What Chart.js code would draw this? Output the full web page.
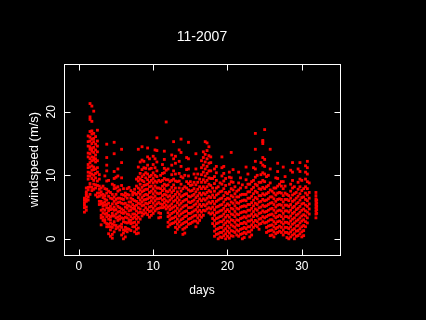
<!DOCTYPE html>
<html>
<head>
<meta charset="utf-8">
<script src="https://cdn.jsdelivr.net/npm/chart.js@4"></script>
<style>
  html, body { margin: 0; padding: 0; background: #000; }
</style>
</head>
<body>
<canvas id="wind" width="426" height="320"></canvas>
<script>
var chartTitle = "11-2007";
var xLabel = "days";
var yLabel = "windspeed (m/s)";
var xTicks = [0, 10, 20, 30];
var yTicks = [0, 10, 20];

var days = [0.75, 1.0, 1.25, 1.5, 1.75, 2.0, 2.25, 2.5, 2.75, 3.0, 3.25, 3.5, 3.75, 4.0, 4.25, 4.5, 4.75,
  5.0, 5.25, 5.5, 5.75, 6.0, 6.25, 6.5, 6.75, 7.0, 7.25, 7.5, 7.75, 8.0, 8.25, 8.5, 8.75,
  9.0, 9.25, 9.5, 9.75, 10.0, 10.25, 10.5, 10.75, 11.0, 11.25, 11.5, 11.75, 12.0, 12.25, 12.5, 12.75,
  13.0, 13.25, 13.5, 13.75, 14.0, 14.25, 14.5, 14.75, 15.0, 15.25, 15.5, 15.75, 16.0, 16.25, 16.5, 16.75,
  17.0, 17.25, 17.5, 17.75, 18.0, 18.25, 18.5, 18.75, 19.0, 19.25, 19.5, 19.75, 20.0, 20.25, 20.5, 20.75,
  21.0, 21.25, 21.5, 21.75, 22.0, 22.25, 22.5, 22.75, 23.0, 23.25, 23.5, 23.75, 24.0, 24.25, 24.5, 24.75,
  25.0, 25.25, 25.5, 25.75, 26.0, 26.25, 26.5, 26.75, 27.0, 27.25, 27.5, 27.75, 28.0, 28.25, 28.5, 28.75,
  29.0, 29.25, 29.5, 29.75, 30.0, 30.25, 30.5, 30.75, 31.0, 31.9, 32.0];

var speeds = [
  [4.2, 4.9, 5.3, 6.1, 6.4, 5.7],
  [4.5, 5.0, 5.9, 6.3, 7.1, 7.4, 8.0, 6.8],
  [6.1, 6.6, 7.7, 8.1, 9.4, 9.9, 11.2, 11.7, 12.9, 13.5, 14.6, 15.3, 16.2, 10.5],
  [7.0, 8.2, 8.7, 9.9, 10.4, 11.3, 12.0, 12.6, 13.4, 14.1, 14.5, 15.4, 16.0, 16.9, 18.8, 19.2, 21.3],
  [7.6, 8.1, 9.5, 10.2, 10.8, 11.5, 12.3, 12.9, 13.8, 14.2, 15.0, 15.7, 16.5, 17.0, 18.5, 20.9],
  [7.8, 8.6, 9.2, 10.0, 10.9, 11.3, 12.4, 12.8, 13.6, 14.4, 15.3, 15.8, 16.6, 20.1],
  [6.9, 8.0, 8.5, 9.6, 10.3, 11.0, 12.1, 12.6, 13.2, 14.0, 14.9, 16.1],
  [6.6, 7.2, 8.4, 9.1, 10.5, 11.2, 12.3, 13.7, 14.6, 15.4, 17.1],
  [5.4, 5.9, 6.7, 7.8, 8.3, 9.4, 10.1, 7.2],
  [2.2, 3.3, 3.7, 4.5, 5.5, 5.9, 6.9, 7.4, 8.0],
  [2.9, 3.4, 4.1, 5.2, 5.6, 6.5, 7.0, 8.3, 4.7],
  [2.6, 3.0, 3.9, 4.5, 5.3, 6.3, 6.8, 7.9, 9.9, 5.8],
  [1.9, 2.4, 3.5, 4.0, 4.9, 5.4, 6.1, 7.2, 7.8, 9.1, 10.7, 11.6, 12.8, 14.9],
  [0.8, 1.9, 2.3, 3.1, 4.4, 4.8, 5.6, 6.7, 7.5, 9.2, 3.7],
  [0.4, 1.4, 1.9, 3.0, 3.5, 4.6, 5.1, 6.4, 7.3, 2.5],
  [0.1, 0.7, 1.8, 2.3, 3.6, 4.0, 4.7, 5.5, 6.3, 7.0, 8.6],
  [1.1, 2.2, 2.7, 3.6, 4.5, 5.0, 5.9, 6.6, 7.9, 8.4, 9.5, 10.6, 13.4, 15.2],
  [1.6, 2.1, 3.3, 3.9, 4.6, 5.5, 6.2, 7.0, 8.0, 9.7],
  [1.8, 2.9, 3.4, 4.2, 5.1, 5.7, 6.4, 7.5, 8.2, 9.9, 11.0],
  [1.4, 2.0, 3.1, 3.6, 4.3, 4.9, 5.8, 6.4, 7.7],
  [0.6, 1.8, 2.3, 3.3, 4.1, 4.7, 5.6, 6.3, 7.0, 8.4, 9.6, 12.0, 14.1],
  [0.0, 0.9, 1.4, 2.7, 3.2, 4.0, 4.5, 5.5, 6.2, 6.9, 7.9],
  [0.3, 1.3, 1.8, 2.6, 3.4, 4.2, 5.0, 5.6, 6.7, 7.2],
  [1.1, 1.6, 2.5, 3.3, 3.9, 4.8, 5.3, 6.4, 7.0, 7.9],
  [1.5, 2.6, 3.0, 3.8, 4.4, 5.2, 5.8, 6.9, 8.1],
  [1.3, 2.4, 2.9, 3.5, 4.5, 5.0, 5.8, 6.4, 7.6],
  [1.9, 2.5, 3.2, 3.9, 4.8, 5.4, 6.2, 6.9, 7.3],
  [1.1, 1.9, 2.6, 3.4, 3.9, 4.7, 5.1, 6.0, 7.2, 7.8],
  [0.8, 1.5, 2.2, 3.1, 3.7, 4.4, 5.3, 5.9, 7.0, 8.3, 9.4],
  [0.9, 1.7, 2.6, 3.4, 4.1, 4.9, 5.6, 6.5, 7.3, 8.0, 9.1, 9.7, 11.3, 14.1],
  [3.1, 4.2, 4.7, 5.5, 6.1, 7.0, 7.7, 8.6, 9.4, 10.3, 12.1],
  [3.6, 4.1, 5.2, 5.8, 6.5, 7.4, 8.1, 9.2, 9.8, 10.9, 12.4, 14.5],
  [3.9, 4.5, 5.3, 6.1, 6.8, 7.6, 8.4, 9.0, 10.1, 11.2, 12.2],
  [4.1, 4.9, 5.6, 6.2, 7.0, 7.8, 8.5, 9.6, 10.4, 11.1],
  [3.8, 4.6, 5.5, 6.3, 6.9, 7.8, 8.6, 9.3, 10.2, 11.6, 12.9, 14.3],
  [3.4, 4.3, 5.0, 5.7, 6.5, 7.3, 8.2, 8.9, 9.8, 11.0, 12.6],
  [3.7, 4.4, 5.1, 6.0, 6.6, 7.5, 8.3, 9.2, 10.0, 11.1],
  [4.0, 4.8, 5.6, 6.4, 7.1, 7.9, 8.8, 9.5, 10.4, 11.7, 13.0],
  [4.4, 5.2, 6.0, 6.7, 7.5, 8.3, 9.1, 10.0, 11.2, 12.6, 14.0],
  [4.7, 5.5, 6.3, 7.2, 8.0, 8.9, 9.8, 10.7, 12.1, 13.9, 15.9],
  [3.3, 4.1, 4.8, 5.7, 6.3, 7.1, 8.0, 9.2],
  [3.4, 4.0, 4.9, 5.5, 6.4, 7.2, 7.9, 9.0, 10.0],
  [4.9, 5.4, 6.1, 6.8, 7.6, 8.3, 9.2, 10.3, 11.7],
  [5.0, 5.7, 6.3, 7.0, 7.9, 8.6, 9.5, 10.4, 11.1, 12.5, 13.8],
  [4.7, 5.3, 6.0, 6.9, 7.5, 8.4, 9.3, 10.8, 18.4],
  [1.9, 2.6, 3.5, 4.1, 5.0, 5.8, 6.6, 7.4, 8.5, 9.3, 11.0],
  [2.2, 3.0, 3.7, 4.6, 5.2, 6.1, 6.8, 7.7, 9.0],
  [2.4, 3.2, 4.0, 4.8, 5.5, 6.4, 7.3, 8.1, 9.2, 10.1, 11.6, 13.2],
  [2.5, 3.3, 4.2, 5.0, 5.9, 6.7, 7.6, 8.5, 9.4, 10.7, 12.6, 15.3],
  [1.0, 1.8, 2.7, 3.5, 4.4, 5.2, 6.1, 7.0, 8.0, 9.1, 10.2, 11.9, 13.0],
  [1.5, 2.3, 3.1, 4.0, 4.8, 5.7, 6.5, 7.4, 9.0],
  [1.9, 2.7, 3.6, 4.4, 5.3, 6.1, 7.0, 8.0, 9.1, 10.3, 12.2, 14.0],
  [2.2, 3.0, 3.9, 4.7, 5.6, 6.6, 7.5, 8.6, 9.8, 11.4, 13.6, 15.7],
  [0.7, 1.5, 2.4, 3.2, 4.1, 5.0, 5.9, 6.8, 7.9, 9.6],
  [0.9, 1.7, 2.6, 3.5, 4.3, 5.2, 6.1, 7.0, 8.2, 10.0],
  [1.9, 2.7, 3.6, 4.4, 5.3, 6.2, 7.1, 8.0, 9.0, 10.9, 12.8],
  [2.3, 3.1, 4.0, 4.9, 5.8, 6.7, 7.7, 8.7, 9.9, 11.0, 12.6, 15.2],
  [2.4, 3.2, 4.0, 4.9, 5.7, 6.6, 7.5, 8.4, 9.0],
  [2.6, 3.4, 4.2, 5.0, 5.9, 6.8, 7.6, 8.5],
  [2.8, 3.6, 4.4, 5.3, 6.1, 7.0, 7.9, 8.9, 10.2],
  [1.9, 2.8, 3.7, 4.6, 5.5, 6.5, 7.4, 8.5, 9.6, 11.0, 13.4],
  [2.5, 3.3, 4.2, 5.0, 5.9, 6.8, 7.8, 8.9, 10.2],
  [2.9, 3.7, 4.5, 5.4, 6.3, 7.2, 8.2, 9.4],
  [3.4, 4.2, 5.1, 6.0, 6.9, 7.9, 8.9, 10.1, 11.2, 12.3],
  [3.7, 4.5, 5.4, 6.3, 7.2, 8.2, 9.3, 10.5, 11.6, 12.8, 13.7],
  [4.4, 5.2, 6.1, 7.0, 7.9, 8.9, 9.9, 11.0, 12.1, 13.3, 15.3],
  [4.7, 5.5, 6.4, 7.3, 8.2, 9.2, 10.3, 11.4, 12.6, 13.9, 15.1],
  [4.1, 4.9, 5.8, 6.7, 7.6, 8.6, 9.6, 10.7, 11.9, 13.1, 14.5],
  [3.9, 4.7, 5.6, 6.5, 7.4, 8.4, 9.5, 10.7, 12.0, 12.9],
  [2.4, 3.2, 4.1, 5.0, 5.9, 6.9, 8.0, 9.5],
  [0.4, 1.2, 2.0, 2.9, 3.7, 4.6, 5.5, 6.5, 7.5, 8.7, 9.8, 11.0],
  [0.7, 1.5, 2.4, 3.2, 4.1, 5.0, 5.9, 6.9, 8.0, 9.2, 10.4, 11.4],
  [0.0, 0.8, 1.6, 2.5, 3.3, 4.2, 5.1, 6.1, 7.1, 8.2],
  [0.3, 1.0, 1.8, 2.7, 3.5, 4.4, 5.3, 6.3, 7.4, 8.8],
  [0.2, 1.0, 1.8, 2.7, 3.6, 4.5, 5.4, 6.4, 7.5, 8.6, 9.9, 11.2, 12.9],
  [0.5, 1.3, 2.2, 3.0, 3.9, 4.8, 5.8, 6.8, 7.9, 9.1, 10.3, 11.4],
  [0.0, 0.8, 1.6, 2.5, 3.4, 4.3, 5.2, 6.2, 7.3, 8.4, 9.5],
  [0.4, 1.2, 2.0, 2.8, 3.7, 4.6, 5.5, 6.4, 7.1],
  [0.1, 0.9, 1.7, 2.6, 3.4, 4.3, 5.3, 6.3, 7.4, 8.6, 9.7, 10.5],
  [0.5, 1.3, 2.2, 3.0, 3.9, 4.8, 5.8, 6.8, 7.9, 9.0, 9.6, 13.6],
  [0.4, 1.2, 2.0, 2.9, 3.8, 4.7, 5.6, 6.6, 7.7, 8.9, 10.9],
  [1.0, 1.8, 2.6, 3.5, 4.3, 5.2, 6.1, 7.1, 8.2],
  [0.6, 1.4, 2.2, 3.0, 3.9, 4.8, 5.7, 6.6, 7.5],
  [0.4, 1.2, 2.1, 2.9, 3.8, 4.7, 5.6, 6.6, 7.7, 8.8, 10.5],
  [0.7, 1.5, 2.4, 3.2, 4.1, 5.0, 5.9, 6.9, 8.0, 9.6],
  [0.0, 0.8, 1.6, 2.4, 3.3, 4.2, 5.1, 6.0, 7.0, 8.5],
  [0.2, 1.0, 1.8, 2.6, 3.5, 4.3, 5.2, 6.1, 7.0],
  [0.8, 1.6, 2.4, 3.3, 4.2, 5.1, 6.0, 7.0, 8.1, 9.3, 11.3],
  [1.1, 1.9, 2.8, 3.6, 4.5, 5.4, 6.4, 7.4, 8.6, 10.2],
  [0.3, 1.1, 1.9, 2.8, 3.6, 4.5, 5.4, 6.4, 7.4, 8.6],
  [0.6, 1.4, 2.2, 3.0, 3.9, 4.8, 5.7, 6.7, 7.8, 9.0],
  [1.8, 2.6, 3.5, 4.3, 5.2, 6.1, 7.1, 8.1, 9.2, 11.2],
  [2.1, 2.9, 3.8, 4.7, 5.6, 6.5, 7.5, 8.6, 9.7, 11.0, 12.2, 14.1, 16.6],
  [1.9, 2.7, 3.6, 4.5, 5.4, 6.3, 7.3, 8.4, 10.0],
  [1.5, 2.3, 3.1, 4.0, 4.9, 5.8, 6.8, 7.9, 8.9],
  [2.4, 3.2, 4.1, 5.0, 5.9, 6.8, 7.8, 8.9, 10.1, 12.0],
  [2.7, 3.5, 4.4, 5.3, 6.2, 7.1, 8.1, 9.2, 10.4, 11.6, 12.8, 15.0, 15.3, 15.5],
  [2.5, 3.3, 4.2, 5.1, 6.0, 6.9, 7.9, 9.0, 10.2, 11.4, 12.5, 17.2],
  [1.0, 1.8, 2.6, 3.5, 4.3, 5.2, 6.1, 7.1, 8.2, 9.8],
  [1.2, 2.0, 2.8, 3.7, 4.5, 5.4, 6.3, 7.3, 8.4, 10.0],
  [0.5, 1.3, 2.1, 3.0, 3.8, 4.7, 5.6, 6.6, 7.7, 8.8, 11.0, 14.1],
  [0.6, 1.4, 2.2, 3.0, 3.9, 4.8, 5.7, 6.6, 7.5],
  [0.3, 1.1, 1.9, 2.7, 3.6, 4.5, 5.4, 6.3, 7.2, 8.0],
  [0.8, 1.6, 2.4, 3.3, 4.1, 5.0, 5.9, 6.9, 8.0, 9.6],
  [1.0, 1.8, 2.7, 3.5, 4.4, 5.3, 6.2, 7.2, 8.3, 9.5, 10.6, 11.9],
  [1.2, 2.0, 2.8, 3.7, 4.5, 5.4, 6.3, 7.3, 8.6],
  [1.0, 1.8, 2.6, 3.5, 4.4, 5.3, 6.2, 7.2, 8.3, 9.0],
  [0.6, 1.4, 2.3, 3.1, 4.0, 4.9, 5.8, 6.8, 7.9, 9.0, 11.3],
  [1.0, 1.8, 2.6, 3.5, 4.4, 5.3, 6.2, 7.2, 8.3, 9.8],
  [0.2, 1.0, 1.8, 2.6, 3.5, 4.4, 5.3, 6.2, 7.0],
  [0.0, 0.8, 1.6, 2.4, 3.3, 4.2, 5.1, 6.0, 6.8],
  [0.3, 1.1, 1.9, 2.8, 3.6, 4.5, 5.4, 6.4, 7.5, 8.6, 10.8],
  [0.6, 1.4, 2.3, 3.1, 4.0, 4.9, 5.9, 6.9, 8.0, 9.2, 10.5, 12.0],
  [0.0, 0.8, 1.6, 2.5, 3.3, 4.2, 5.1, 6.1, 7.1, 8.2],
  [0.4, 1.2, 2.0, 2.8, 3.7, 4.6, 5.5, 6.4, 7.3],
  [0.5, 1.3, 2.1, 3.0, 3.9, 4.8, 5.7, 6.7, 7.8, 8.9, 11.0],
  [0.8, 1.6, 2.5, 3.3, 4.2, 5.1, 6.1, 7.1, 8.2, 9.4, 10.6, 12.0],
  [0.3, 1.1, 1.9, 2.8, 3.6, 4.5, 5.5, 6.5, 7.6, 9.2],
  [0.5, 1.3, 2.1, 3.0, 3.8, 4.7, 5.6, 6.6, 7.9],
  [1.9, 2.7, 3.6, 4.4, 5.3, 6.2, 7.2, 8.2, 9.4, 10.5, 11.5],
  [2.5, 3.3, 4.2, 5.1, 6.0, 6.9, 7.9, 9.0, 10.2, 11.2, 12.2],
  [3.9, 4.7, 5.5, 6.4, 7.3, 8.8],
  [3.3, 3.9, 4.4, 4.9, 5.4, 5.9, 6.3, 6.8, 7.3],
  [4.0, 4.6, 5.1, 5.6, 6.1]
];

var points = [];
for (var i = 0; i < days.length; i++) {
  for (var j = 0; j < speeds[i].length; j++) {
    points.push({ x: days[i], y: speeds[i][j] });
  }
}

var fontName = "'Liberation Sans', Arial, sans-serif";

var blackBg = {
  id: "blackBg",
  beforeDraw: function (chart) {
    var c = chart.ctx;
    c.save();
    c.fillStyle = "#000";
    c.fillRect(0, 0, chart.width, chart.height);
    c.restore();
  }
};

// R style frame: box, inward ticks on all four sides, labels
var rFrame = {
  id: "rFrame",
  afterDatasetsDraw: function (chart) {
    var c = chart.ctx;
    var a = chart.chartArea;
    var xs = chart.scales.x;
    var ys = chart.scales.y;
    var L = Math.round(a.left) + 0.5, R = Math.round(a.right) + 0.5;
    var T = Math.round(a.top) + 0.5, B = Math.round(a.bottom) + 0.5;
    var tl = 6;
    c.save();
    c.strokeStyle = "#fff";
    c.lineWidth = 1;
    c.strokeRect(L, T, R - L, B - T);
    c.beginPath();
    xTicks.forEach(function (v) {
      var px = Math.round(xs.getPixelForValue(v)) + 0.5;
      c.moveTo(px, B); c.lineTo(px, B - tl);
      c.moveTo(px, T); c.lineTo(px, T + tl);
    });
    yTicks.forEach(function (v) {
      var py = Math.round(ys.getPixelForValue(v)) + 0.5;
      c.moveTo(L, py); c.lineTo(L + tl, py);
      c.moveTo(R, py); c.lineTo(R - tl, py);
    });
    c.stroke();

    c.fillStyle = "#fff";
    c.font = "12px " + fontName;
    c.textAlign = "center";
    c.textBaseline = "middle";
    xTicks.forEach(function (v) {
      c.fillText(String(v), xs.getPixelForValue(v), 267);
    });
    yTicks.forEach(function (v) {
      c.save();
      c.translate(52, ys.getPixelForValue(v));
      c.rotate(-Math.PI / 2);
      c.fillText(String(v), 0, 0);
      c.restore();
    });
    var mid = (a.left + a.right) / 2;
    c.fillText(xLabel, mid, 291);
    c.save();
    c.translate(34, (a.top + a.bottom) / 2);
    c.rotate(-Math.PI / 2);
    c.font = "13px " + fontName;
    c.fillText(yLabel, 0, 0);
    c.restore();
    c.font = "14px " + fontName;
    c.fillText(chartTitle, mid, 37);
    c.restore();
  }
};

new Chart(document.getElementById("wind"), {
  type: "scatter",
  data: {
    datasets: [{
      label: "windspeed",
      data: points,
      backgroundColor: "#ff0000",
      borderWidth: 0,
      pointStyle: "rect",
      pointRadius: 2
    }]
  },
  options: {
    responsive: false,
    animation: false,
    devicePixelRatio: 1,
    layout: { padding: { left: 64, right: 86, top: 64, bottom: 65 } },
    scales: {
      x: { type: "linear", min: -2, max: 35.14, display: false },
      y: { type: "linear", min: -2.55, max: 27.53, display: false }
    },
    plugins: {
      legend: { display: false },
      tooltip: { enabled: false },
      title: { display: false }
    }
  },
  plugins: [blackBg, rFrame]
});
</script>
</body>
</html>
